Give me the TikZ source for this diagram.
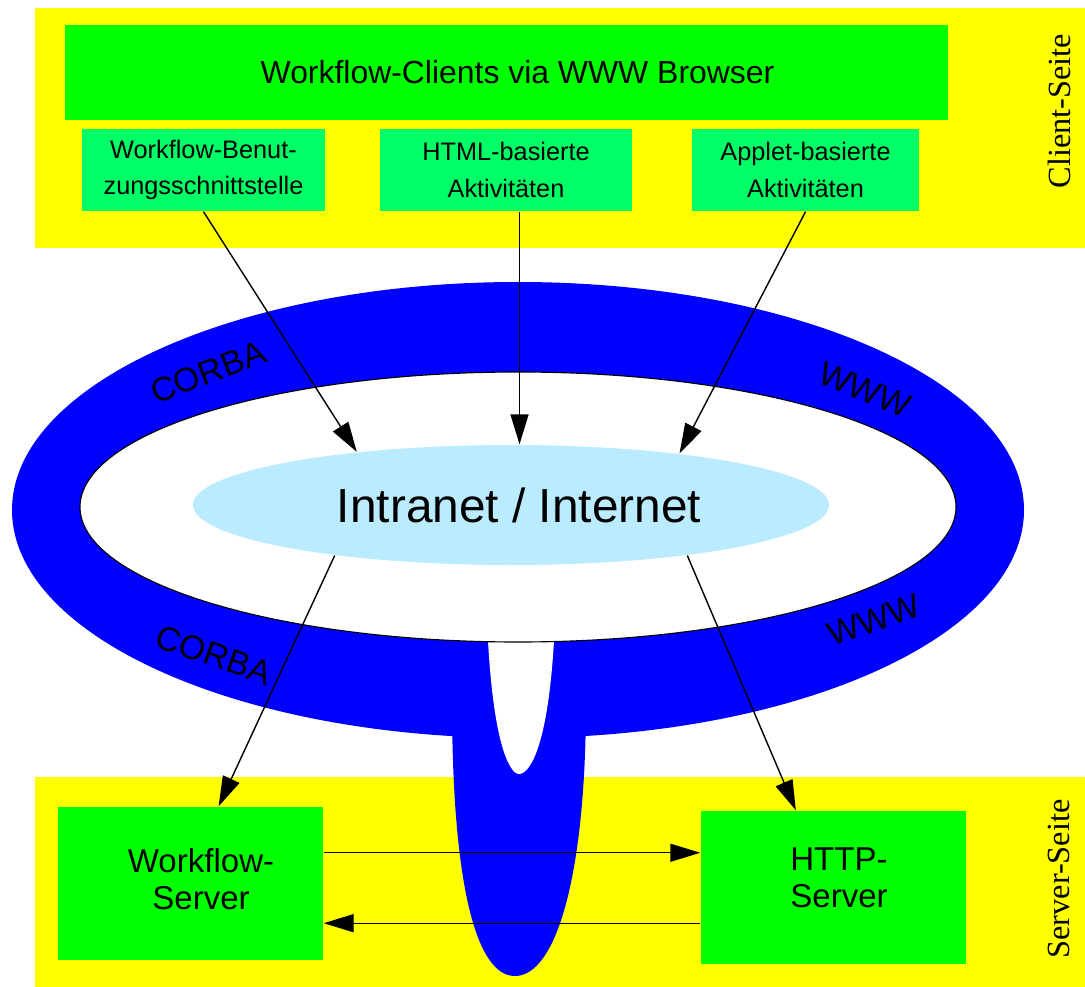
\documentclass[tikz,border=0pt]{standalone}
\usepackage{fontspec}
\setmainfont{Liberation Sans}
\newfontfamily\seitefont{Liberation Serif}
\usepackage{tikz}
\usetikzlibrary{arrows.meta,shapes}

\definecolor{bandyellow}{RGB}{255,255,0}
\definecolor{boxgreen}{RGB}{0,255,0}
\definecolor{partgreen}{RGB}{0,255,102}
\definecolor{ringblue}{RGB}{0,0,255}
\definecolor{netblue}{RGB}{187,235,255}

\begin{document}
\begin{tikzpicture}[x=0.25mm,y=-0.25mm,>={Triangle[length=7.5mm,width=4.5mm]},line width=1pt]
        \tikzstyle{band}=[fill=bandyellow]
        \tikzstyle{part}=[rectangle,fill=partgreen,inner sep=0pt,minimum height=20.5mm,align=center,font=\fontsize{18}{26}\selectfont]
        \tikzstyle{server}=[rectangle,fill=boxgreen,inner sep=0pt,minimum width=66.25mm,minimum height=38.25mm]
        \tikzstyle{servertext}=[inner sep=0pt,align=center,font=\fontsize{23.5}{26}\selectfont]
        \tikzstyle{seite}=[rotate=90,inner sep=0pt,font=\seitefont\fontsize{23}{27}\selectfont]
        \tikzstyle{proto}=[inner sep=0pt,font=\fontsize{24}{28}\selectfont]
        \useasboundingbox (0,0) rectangle (1085,987);
        % client and server side
        \fill[band] (35,8) rectangle (1085,248);
        \fill[band] (35,777) rectangle (1085,987);
        \node[seite] (cseite) at (1059,111) {Client-Seite};
        \node[seite] (sseite) at (1059,879) {Server-Seite};
        % network ring with tail
        \fill[ringblue] (518,510) ellipse [x radius=506, y radius=228];
        \fill[ringblue] (452,700) .. controls (452,880) and (475,976) .. (515,976)
            .. controls (555,976) and (586,880) .. (586,700) -- cycle;
        \fill[white] (487,620) .. controls (492,745) and (510,774) .. (519,774)
            .. controls (530,774) and (550,745) .. (555,620) -- cycle;
        \filldraw[fill=white,draw=black,line width=0.8pt] (518,507) ellipse [x radius=438, y radius=135];
        \node[proto,rotate=21] (corba1) at (208,372) {CORBA};
        \node[proto,rotate=-19] (corba2) at (214,655) {CORBA};
        \node[proto,rotate=-22] (www1) at (865,390) {WWW};
        \node[proto,rotate=19] (www2) at (874,620) {WWW};
        \node[ellipse,fill=netblue,inner sep=0pt,minimum width=159mm,minimum height=30mm,
            font=\fontsize{34}{40}\selectfont] (inet) at (511,505) {\hspace*{4mm}Intranet / Internet};
        % clients
        \node[rectangle,fill=boxgreen,inner sep=0pt,minimum width=220.75mm,minimum height=23.75mm,
            font=\fontsize{22.7}{27}\selectfont] (browser) at (506.5,72.5) {\hspace*{5.5mm}Workflow-Clients via WWW Browser};
        \node[part,minimum width=60.75mm] (wfb) at (203.5,170) {Workflow-Benut-\\zungsschnittstelle};
        \node[part,minimum width=63mm] (html) at (506,170) {HTML-basierte\\Aktivitäten};
        \node[part,minimum width=56.75mm] (applet) at (805.5,170) {Applet-basierte\\Aktivitäten};
        % servers
        \node[server] (wfs) at (190.5,883.5) {};
        \node[servertext] (wfstext) at (201,879) {Workflow-\\Server};
        \node[server] (httpsrv) at (833.5,887.5) {};
        \node[servertext] (httptext) at (839,878) {HTTP-\\Server};
        % connections
        \draw[->] (wfb.south) -- (inet.161);
        \draw[->] (inet.82 |- html.south) -- (inet.82);
        \draw[->] (applet.south) -- (inet.17.5);
        \draw[->] (inet.196) -- (wfs.70);
        \draw[->] (inet.344) -- (httpsrv.116);
        \draw[->] (wfs.13) -- (wfs.13 -| httpsrv.west);
        \draw[->] (httpsrv.195) -- (httpsrv.195 -| wfs.east);
\end{tikzpicture}
\end{document}
